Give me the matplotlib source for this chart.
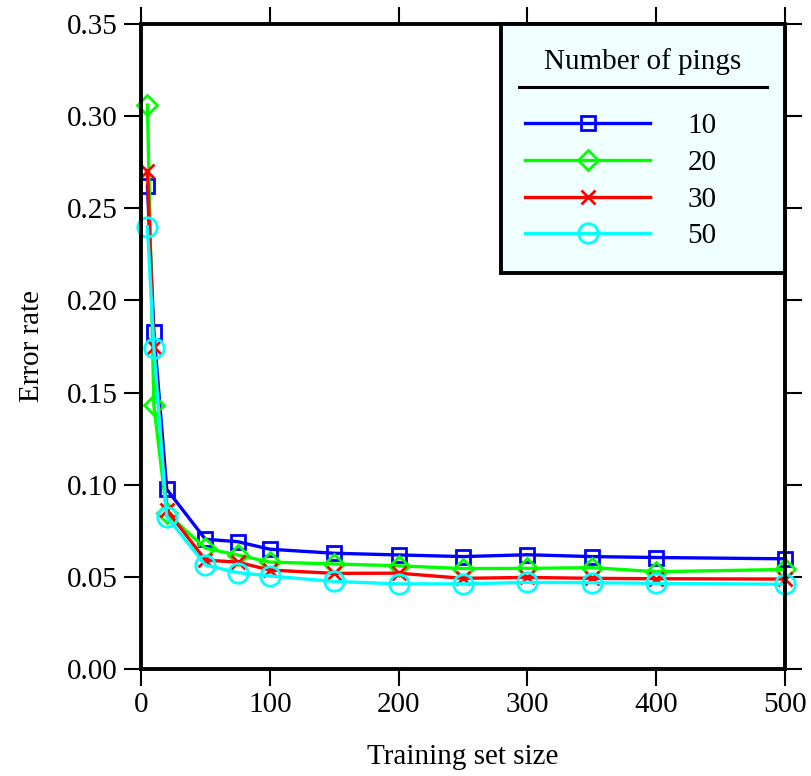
import numpy as np
import matplotlib
matplotlib.use("Agg")
import matplotlib.pyplot as plt
from matplotlib.lines import Line2D

plt.rcParams['font.family'] = ['Liberation Serif', 'DejaVu Serif']

# 训练集大小
train_size = [5, 10, 20, 50, 75, 100, 150, 200, 250, 300, 350, 400, 500]

# 各 ping 数量下的错误率
err_10 = [0.262, 0.183, 0.0975, 0.0704, 0.0691, 0.0650, 0.0628, 0.0619, 0.0610, 0.0620, 0.0610, 0.0605, 0.0598]
err_20 = [0.306, 0.143, 0.0845, 0.0655, 0.0619, 0.0580, 0.0570, 0.0560, 0.0545, 0.0546, 0.0550, 0.0528, 0.0540]
err_30 = [0.270, 0.175, 0.0863, 0.0591, 0.0580, 0.0537, 0.0519, 0.0520, 0.0492, 0.0497, 0.0492, 0.0490, 0.0488]
err_50 = [0.240, 0.174, 0.0827, 0.0564, 0.0523, 0.0505, 0.0475, 0.0462, 0.0462, 0.0470, 0.0468, 0.0465, 0.0460]

labels = ['10', '20', '30', '50']
colors = ['#0000ff', '#00ff00', '#ff0000', '#00ffff']
markers = ['s', 'D', 'x', 'o']
msizes = [9.5, 10.5, 10.5, 14]

fs = 21

fig = plt.figure(figsize=(8.11, 7.76), dpi=100)
ax = fig.add_axes([141 / 811, 1 - 669 / 776, 644 / 811, 645 / 776])

for y, lab, c, m, ms in zip([err_10, err_20, err_30, err_50], labels, colors, markers, msizes):
    ax.plot(train_size, y, color=c, marker=m, markersize=ms, markerfacecolor='none',
            markeredgecolor=c, markeredgewidth=2.0, linewidth=2.4, label=lab, clip_on=False)

ax.set_xlim(0, 500)
ax.set_ylim(0, 0.35)
ax.set_xticks(np.arange(0, 501, 100))
ax.set_yticks(np.arange(0, 0.351, 0.05))
ax.yaxis.set_major_formatter(matplotlib.ticker.FormatStrFormatter('%.2f'))

ax.tick_params(direction='out', length=12.5, width=1.5, labelsize=fs, pad=4,
               top=True, right=True, labeltop=False, labelright=False)
for s in ax.spines.values():
    s.set_linewidth(2.8)

ax.set_xlabel('Training set size', fontsize=fs, labelpad=19)
ax.set_ylabel('Error rate', fontsize=fs, labelpad=16)

leg = ax.legend(loc='upper left', bbox_to_anchor=(0.559, 0, 0.441, 1.0), mode='expand',
                title='Number of pings', title_fontsize=fs, fontsize=fs,
                frameon=True, fancybox=False, framealpha=1, facecolor='#f0ffff',
                edgecolor='black', handlelength=4.3, handletextpad=1.27,
                labelspacing=0.35, borderpad=0.82, borderaxespad=0)
leg.get_frame().set_linewidth(2.8)
leg._legend_box.sep = 27.5

# 图例标题下方的横线
fig.add_artist(Line2D([519 / 811, 767 / 811], [1 - 87 / 776, 1 - 87 / 776],
                      transform=fig.transFigure, color='black', linewidth=2.2))

plt.savefig('out.png', dpi=100)
